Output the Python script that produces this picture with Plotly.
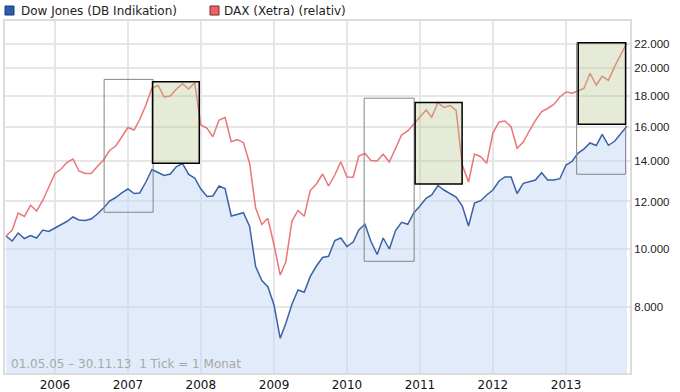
import pandas as pd
import plotly.graph_objects as go

# Monthly ticks 01.05.05 - 30.11.13
months = pd.date_range("2005-05-01", "2013-11-01", freq="MS")

dow = [10512, 10312, 10633, 10411, 10532, 10431, 10756, 10695,
       10839, 10965, 11113, 11307, 11177, 11156, 11220, 11438, 11704, 12023, 12185, 12398,
       12589, 12374, 12398, 12932, 13568, 13412, 13259, 13335, 13725, 13884, 13310, 13132,
       12589, 12232, 12256, 12735, 12613, 11350, 11438, 11495, 10902, 9350, 8861, 8653,
       8066, 7099, 7519, 8097, 8544, 8469, 8992, 9368, 9679, 9724, 10332, 10431,
       10096, 10272, 10756, 10994, 10292, 9791, 10431, 10000, 10736, 11079, 10994, 11482,
       11794, 12148, 12303, 12760, 12541, 12374, 12209, 11794, 10923, 11931, 12037, 12303,
       12541, 12982, 13183, 13183, 12374, 12868, 12947, 13032, 13402, 13032, 13032, 13097,
       13804, 14001, 14438, 14689, 15020, 14876, 15530, 14888, 15118, 15566, 16014]

dax_rel = [10512, 10756, 11482, 11328, 11826, 11570, 12046, 12686,
           13361, 13594, 13937, 14125, 13490, 13361, 13361, 13725, 14071, 14594, 14848, 15370,
           15941, 15788, 16438, 17378, 18550, 18729, 17920, 17989, 18478, 18859, 18478, 18931,
           16094, 15892, 15387, 16406, 16564, 15095, 15223, 15037, 13884, 11704, 10986, 11250,
           10155, 9050, 9524, 11134, 11592, 11337, 12517, 12833, 13335, 12735, 13284, 13980,
           13183, 13167, 14289, 14427, 14044, 14017, 14388, 13964, 14718, 15488, 15728, 16156,
           16596, 17048, 16577, 17546, 17212, 17345, 17015, 13804, 12932, 14399, 14251, 13894,
           15607, 16281, 16343, 15990, 14718, 15078, 15728, 16375, 16950, 17146, 17412, 17920,
           18267, 18176, 18338, 18529, 19627, 18765, 19402, 19106, 20130, 21054, 22046]

y_ticks = [8000, 10000, 12000, 14000, 16000, 18000, 20000, 22000]
year_ticks = [f"{y}-01-01" for y in range(2006, 2014)]
year_labels = [str(y) for y in range(2006, 2014)]

# highlight boxes: (start, end, low, high, kind)
boxes = [
    ("2006-09-04", "2007-05-07", 11514, 19175, "range"),
    ("2007-05-04", "2007-12-24", 13895, 19000, "zone"),
    ("2010-03-28", "2010-12-03", 9539, 17838, "range"),
    ("2010-12-08", "2011-07-31", 12833, 17545, "zone"),
    ("2013-02-23", "2013-10-26", 13321, 22075, "range"),
    ("2013-03-03", "2013-10-26", 16138, 22075, "zone"),
]

SANS = "DejaVu Sans, Verdana, sans-serif"

fig = go.Figure()
fig.add_trace(go.Scatter(x=months, y=dow, mode="lines", name="Dow Jones (DB Indikation)",
                         line=dict(color="#3a62a8", width=1.5),
                         fill="tozeroy", fillcolor="rgba(197,215,245,0.5)"))
fig.add_trace(go.Scatter(x=months, y=dax_rel, mode="lines", name="DAX (Xetra) (relativ)",
                         line=dict(color="#ea7676", width=1.5)))

for x0, x1, lo, hi, kind in boxes:
    if kind == "range":
        fig.add_shape(type="rect", xref="x", yref="y", x0=x0, x1=x1, y0=lo, y1=hi,
                      line=dict(color="#858585", width=1), fillcolor="rgba(0,0,0,0)", layer="above")
    else:
        fig.add_shape(type="rect", xref="x", yref="y", x0=x0, x1=x1, y0=lo, y1=hi,
                      line=dict(color="#000000", width=1.5),
                      fillcolor="rgba(184,198,141,0.35)", layer="above")

# legend squares + text
fig.add_shape(type="rect", xref="paper", yref="paper", x0=0.0, x1=0.0144, y0=1.017, y1=1.0426,
              line=dict(color="#1a3a7a", width=1), fillcolor="#2a5caa")
fig.add_shape(type="rect", xref="paper", yref="paper", x0=0.328, x1=0.3424, y0=1.017, y1=1.0426,
              line=dict(color="#7a2a2a", width=1), fillcolor="#f06262")
fig.add_annotation(xref="paper", yref="paper", x=0.022, y=1.0298, text="Dow Jones (DB Indikation)",
                   showarrow=False, xanchor="left", yanchor="middle",
                   font=dict(family=SANS, size=12, color="#222222"))
fig.add_annotation(xref="paper", yref="paper", x=0.3465, y=1.0298, text="DAX (Xetra) (relativ)",
                   showarrow=False, xanchor="left", yanchor="middle",
                   font=dict(family=SANS, size=12, color="#222222"))
fig.add_annotation(xref="paper", yref="paper", x=0.006, y=0.026,
                   text="01.05.05 – 30.11.13  1 Tick = 1 Monat",
                   showarrow=False, xanchor="left", yanchor="middle",
                   font=dict(family=SANS, size=12, color="#a8a8a8"))

fig.update_layout(
    width=680, height=392,
    margin=dict(l=5, r=50, t=21, b=19, autoexpand=False),
    paper_bgcolor="white", plot_bgcolor="white",
    showlegend=False,
    separators=",.",
    font=dict(family=SANS, size=12, color="#222222"),
    xaxis=dict(type="date", range=["2005-04-26", "2013-11-17"],
               tickvals=year_ticks, ticktext=year_labels,
               tickfont=dict(family=SANS, size=12, color="#111111"),
               showgrid=True, gridcolor="#e6e6e6", gridwidth=2,
               showline=True, linecolor="#dcdcdc", linewidth=2, mirror=True,
               ticks="", zeroline=False),
    yaxis=dict(type="log", range=[3.79333, 4.38], side="right",
               tickvals=y_ticks, tickformat=",d",
               tickfont=dict(family="Liberation Sans, Arial, sans-serif", size=11.5, color="#222222"),
               showgrid=True, gridcolor="#e6e6e6", gridwidth=2,
               showline=True, linecolor="#dcdcdc", linewidth=2, mirror=True,
               ticks="", zeroline=False),
)

fig.write_html("out.html", config={"displayModeBar": False},
               post_script="document.body.style.margin='0px';")
